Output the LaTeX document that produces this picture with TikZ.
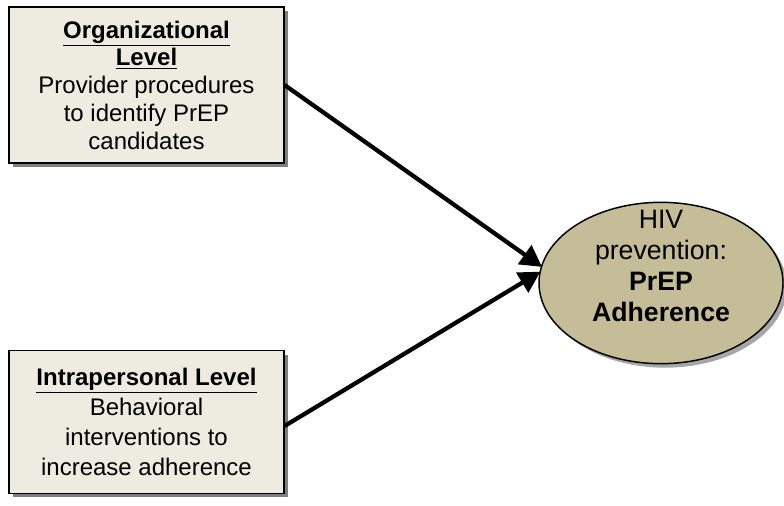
\documentclass[tikz,border=0pt]{standalone}
\usepackage{fontspec}
\setmainfont{Liberation Sans}
\usetikzlibrary{arrows.meta,positioning,shapes.geometric,shadows}
\definecolor{BoxFill}{HTML}{EEECE1}
\definecolor{OvalFill}{HTML}{C4BD97}
\definecolor{Shade}{HTML}{808080}
\tikzset{
  levelbox/.style={draw=black, line width=1.1pt, fill=BoxFill, minimum width=206pt, inner sep=0pt, align=center, drop shadow={shadow xshift=3pt, shadow yshift=-3pt, fill=Shade, opacity=1}},
  outcome/.style={ellipse, draw=black, line width=1.1pt, fill=OvalFill, minimum width=183pt, minimum height=121pt, inner sep=0pt, drop shadow={shadow xshift=3pt, shadow yshift=-3pt, fill=Shade, opacity=.7}},
  arr/.style={-{Triangle[length=16pt, width=17pt]}, line width=3.2pt, draw=black, shorten >=-1pt}
}
\begin{document}
\begin{tikzpicture}[x=.75pt,y=-.75pt]
\useasboundingbox (0,0) rectangle (784,506);
% levels
\node[levelbox, minimum height=117pt, font=\fontsize{18}{20.8}\selectfont] (org) at (146.5,85)
  {\underline{\textbf{Organizational}}\\\underline{\textbf{Level}}\\Provider procedures\\to identify PrEP\\candidates};
\node[levelbox, minimum height=107pt, font=\fontsize{18}{22.5}\selectfont] (intra) at (146.5,422)
  {\underline{\textbf{Intrapersonal Level}}\\Behavioral\\interventions to\\increase adherence};
% outcome
\node[outcome] (hiv) at (661,283) {};
\node[align=center, font=\fontsize{20}{23.2}\selectfont] (hivtext) at (661,266)
  {HIV\\prevention:\\\textbf{PrEP}\\\textbf{Adherence}};
% arrows
\draw[arr] (org.east) -- (hiv.172);
\draw[arr] ([yshift=-3pt]intra.east) -- (hiv.175);
\end{tikzpicture}
\end{document}
